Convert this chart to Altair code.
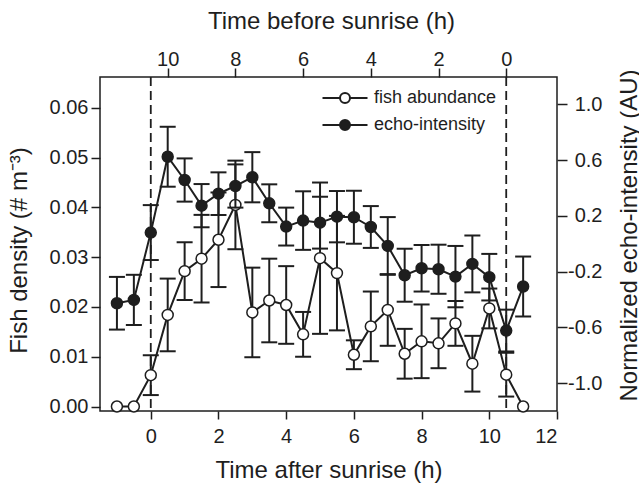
import altair as alt
import pandas as pd

# ---- data ----
time_h = [-1, -0.5, 0, 0.5, 1, 1.5, 2, 2.5, 3, 3.5, 4, 4.5, 5, 5.5, 6, 6.5,
          7, 7.5, 8, 8.5, 9, 9.5, 10, 10.5, 11]
fish_density = [0.0, 0.0, 0.0063, 0.0184, 0.0272, 0.0297, 0.0335, 0.0405,
                0.0189, 0.0213, 0.0204, 0.0145, 0.0298, 0.0268, 0.0104, 0.0161,
                0.0194, 0.0106, 0.0131, 0.0127, 0.0167, 0.0086, 0.0197, 0.0064, 0.0]
fish_err = [None, None, 0.0040, 0.0073, 0.0058, 0.0088, 0.0095, 0.0089,
            0.0090, 0.0084, 0.0078, 0.0045, 0.0152, 0.0115, 0.0029, 0.0070,
            0.0072, 0.0050, 0.0074, 0.0050, 0.0045, 0.0056, 0.0040, 0.0044, None]
echo_intensity = [-0.427, -0.403, 0.080, 0.624, 0.457, 0.273, 0.359, 0.414,
                  0.477, 0.290, 0.123, 0.166, 0.151, 0.194, 0.190, 0.120,
                  -0.016, -0.226, -0.176, -0.183, -0.236, -0.145, -0.240, -0.623, -0.307]
echo_err = [0.189, 0.180, 0.197, 0.215, 0.155, 0.155, 0.153, 0.155,
            0.180, 0.136, 0.136, 0.210, 0.186, 0.184, 0.190, 0.150,
            0.207, 0.190, 0.167, 0.176, 0.220, 0.204, 0.167, 0.150, 0.215]
series_names = ["fish abundance", "echo-intensity"]
sunrise_marks = [0, 10.5]
bottom_ticks = [0, 2, 4, 6, 8, 10, 12]
top_ticks = [0, 2, 4, 6, 8, 10]
left_ticks = [0.0, 0.01, 0.02, 0.03, 0.04, 0.05, 0.06]
right_ticks = [-1.0, -0.6, -0.2, 0.2, 0.6, 1.0]

INK = "#1e1e1e"
FONT = "Liberation Sans"

df = pd.DataFrame({
    "time": time_h,
    "fish": fish_density,
    "fish_lo": [f - e if e is not None else None for f, e in zip(fish_density, fish_err)],
    "fish_hi": [f + e if e is not None else None for f, e in zip(fish_density, fish_err)],
    "echo": echo_intensity,
    "echo_lo": [v - e for v, e in zip(echo_intensity, echo_err)],
    "echo_hi": [v + e for v, e in zip(echo_intensity, echo_err)],
    "fish_series": series_names[0],
    "echo_series": series_names[1],
})
marks_df = pd.DataFrame({"mark": sunrise_marks})
top_df = pd.DataFrame({"before": top_ticks})

xscale = alt.Scale(domain=[-1.5, 12], nice=False, zero=False)
yL = alt.Scale(domain=[-0.0009, 0.0662], nice=False, zero=False)
yR = alt.Scale(domain=[-1.2, 1.196], nice=False, zero=False)

bottom_axis = alt.Axis(values=bottom_ticks, format="d", tickSize=8, labelPadding=7,
                       title="Time after sunrise (h)", titleY=66,
                       titleBaseline="alphabetic")
left_axis = alt.Axis(values=left_ticks, format=".2f", tickSize=9, labelPadding=3,
                     orient="left", title="Fish density (# m⁻³)", titleAngle=270,
                     titleX=-74, titleY=173, titleBaseline="alphabetic")
right_axis = alt.Axis(values=right_ticks, tickSize=10, labelPadding=35,
                      labelExpr="replace(format(datum.value, '.1f'), '\u2212', '-')",
                      labelAlign="right", orient="right",
                      title="Normalized echo-intensity (AU)", titleAngle=270,
                      titleX=79, titleY=158, titleBaseline="alphabetic")
top_axis = alt.Axis(values=top_ticks, format="d", tickSize=9, labelPadding=3,
                    labelBaseline="alphabetic", orient="top",
                    title="Time before sunrise (h)", titleY=-49, titleX=231,
                    titleBaseline="alphabetic")

legend_path = "M-4.5,0L-1,0M1,0L4.5,0M1,0A1,1,0,1,1,-1,0A1,1,0,1,1,1,0Z"
fill_scale = alt.Scale(domain=series_names, range=["white", INK])
legend = alt.Legend(title=None, orient="none", legendX=236, legendY=12,
                    symbolType=legend_path, symbolSize=100, symbolStrokeColor=INK,
                    symbolStrokeWidth=2, symbolOffset=0, labelOffset=20,
                    labelFont=FONT, labelFontSize=18, labelColor=INK,
                    rowPadding=9, padding=0)

base = alt.Chart(df)
X = alt.X("time:Q", scale=xscale, axis=bottom_axis)
XB = alt.X("time:Q", scale=xscale, axis=None)

# ---- fish abundance (left axis) ----
fish_valid = "isValid(datum.fish_lo)"
fish_rule = base.mark_rule(color=INK, strokeWidth=2).encode(
    x=X, y=alt.Y("fish_lo:Q", scale=yL, axis=left_axis), y2="fish_hi:Q"
).transform_filter(fish_valid)
fish_cap_lo = base.mark_tick(orient="horizontal", size=16, thickness=2, color=INK, opacity=1).encode(
    x=X, y=alt.Y("fish_lo:Q", scale=yL, axis=left_axis)).transform_filter(fish_valid)
fish_cap_hi = base.mark_tick(orient="horizontal", size=16, thickness=2, color=INK, opacity=1).encode(
    x=X, y=alt.Y("fish_hi:Q", scale=yL, axis=left_axis)).transform_filter(fish_valid)
fish_line = base.mark_line(color=INK, strokeWidth=2).encode(
    x=X, y=alt.Y("fish:Q", scale=yL, axis=left_axis))
fish_pts = base.mark_point(filled=True, size=120, stroke=INK, strokeWidth=1.5, opacity=1).encode(
    x=X, y=alt.Y("fish:Q", scale=yL, axis=left_axis),
    fill=alt.Fill("fish_series:N", scale=fill_scale, legend=legend))
dashes = alt.Chart(marks_df).mark_rule(color=INK, strokeWidth=1.8, strokeDash=[9, 5]).encode(
    x=alt.X("mark:Q", scale=xscale, axis=bottom_axis))

left_layer = alt.layer(dashes, fish_rule, fish_cap_lo, fish_cap_hi, fish_line, fish_pts)

# ---- echo intensity (right axis) ----
echo_rule = base.mark_rule(color=INK, strokeWidth=2).encode(
    x=XB, y=alt.Y("echo_lo:Q", scale=yR, axis=right_axis), y2="echo_hi:Q")
echo_cap_lo = base.mark_tick(orient="horizontal", size=16, thickness=2, color=INK, opacity=1).encode(
    x=XB, y=alt.Y("echo_lo:Q", scale=yR, axis=right_axis))
echo_cap_hi = base.mark_tick(orient="horizontal", size=16, thickness=2, color=INK, opacity=1).encode(
    x=XB, y=alt.Y("echo_hi:Q", scale=yR, axis=right_axis))
echo_line = base.mark_line(color=INK, strokeWidth=2).encode(
    x=XB, y=alt.Y("echo:Q", scale=yR, axis=right_axis))
echo_pts = base.mark_point(filled=True, size=120, stroke=INK, strokeWidth=1.5, opacity=1).encode(
    x=XB, y=alt.Y("echo:Q", scale=yR, axis=right_axis),
    fill=alt.Fill("echo_series:N", scale=fill_scale, legend=legend))

right_layer = alt.layer(echo_rule, echo_cap_lo, echo_cap_hi, echo_line, echo_pts)

# ---- top axis ----
top_layer = alt.Chart(top_df).mark_rule(opacity=0).encode(
    x=alt.X("before:Q", scale=alt.Scale(domain=[-1.5, 12], reverse=True, nice=False, zero=False),
            axis=top_axis))

chart = alt.layer(left_layer, right_layer, top_layer).resolve_scale(
    x="independent", y="independent"
).properties(
    width=457, height=334,
    padding={"left": 100, "top": 77, "right": 82, "bottom": 76},
    autosize=alt.AutoSizeParams(type="none"),
    background="white",
).configure_view(
    stroke=INK, strokeWidth=1.5
).configure_axis(
    domain=False, grid=False, tickColor=INK, tickWidth=1.5,
    labelFont=FONT, labelFontSize=20, labelColor=INK,
    titleFont=FONT, titleFontSize=24, titleFontWeight="normal", titleColor=INK,
)

chart.save("out.html", embed_options={"renderer": "svg", "actions": False})
